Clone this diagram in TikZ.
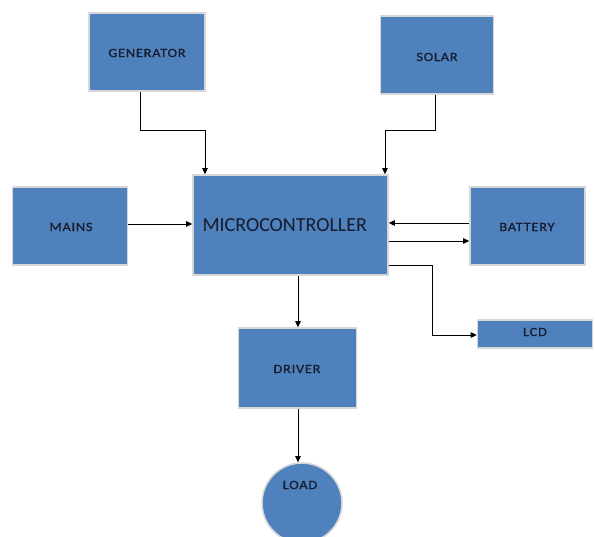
\documentclass[tikz,border=0pt]{standalone}
\usepackage{fontspec}
\setmainfont{Carlito}
\newfontfamily\lblfont[LetterSpace=6,FakeStretch=1.15,FakeBold=0.6]{Carlito}
\usetikzlibrary{arrows.meta}
\definecolor{boxblue}{RGB}{79,129,189}
\definecolor{txtdark}{RGB}{22,28,45}
\definecolor{edgegray}{RGB}{215,215,215}
\tikzset{
  blk/.style={rectangle, fill=boxblue, draw=edgegray, line width=1.6pt, inner sep=0pt},
  lbl/.style={font=\lblfont\fontsize{12.5}{13}\selectfont, text=txtdark},
  conn/.style={line width=0.9pt, -{Triangle[length=6pt,width=5.5pt]}},
}
\begin{document}
\begin{tikzpicture}[x=1pt,y=-1pt]
\useasboundingbox[fill=white] (0,0) rectangle (595,537);
% boxes (centers and sizes in px)
\node[blk, minimum width=116pt, minimum height=78pt] (gen) at (147,52) {};
\node[lbl] at (147,53) {GENERATOR};
\node[blk, minimum width=113pt, minimum height=78pt] (sol) at (437,55) {};
\node[lbl] at (437,57) {SOLAR};
\node[blk, minimum width=115pt, minimum height=78pt] (mains) at (70,226) {};
\node[lbl] at (71,227) {MAINS};
\node[blk, minimum width=195pt, minimum height=100pt] (mc) at (290.5,225) {};
\node[anchor=west, font=\fontsize{20}{22}\selectfont, text=txtdark] at (199,225) {MICROCONTROLLER};
\node[blk, minimum width=115pt, minimum height=78pt] (bat) at (527.5,226) {};
\node[lbl] at (527,227) {BATTERY};
\node[blk, minimum width=115pt, minimum height=28pt] (lcd) at (535,334) {};
\node[lbl] at (535,332) {LCD};
\node[blk, minimum width=118pt, minimum height=80pt] (drv) at (297.5,368) {};
\node[lbl] at (297,369) {DRIVER};
\node[blk, circle, minimum size=80pt] (load) at (302,503) {};
\node[lbl] at (300,485) {LOAD};
% connectors
\draw[conn] (gen.south -| 140,0) |- (205,130) -- (205,0 |- mc.north);
\draw[conn] (sol.south -| 435,0) |- (385,130) -- (385,0 |- mc.north);
\draw[conn] (mains.east |- 0,224) -- (mc.west |- 0,224);
\draw[conn] (bat.west |- 0,223) -- (mc.east |- 0,223);
\draw[conn] (mc.east |- 0,241) -- (bat.west |- 0,241);
\draw[conn] (mc.east |- 0,265) -| (432,335) -- (lcd.west |- 0,335);
\draw[conn] (mc.south -| 298,0) -- (drv.north -| 298,0);
\draw[conn] (drv.south -| 298,0) -- (load.north -| 298,0);
\end{tikzpicture}
\end{document}
